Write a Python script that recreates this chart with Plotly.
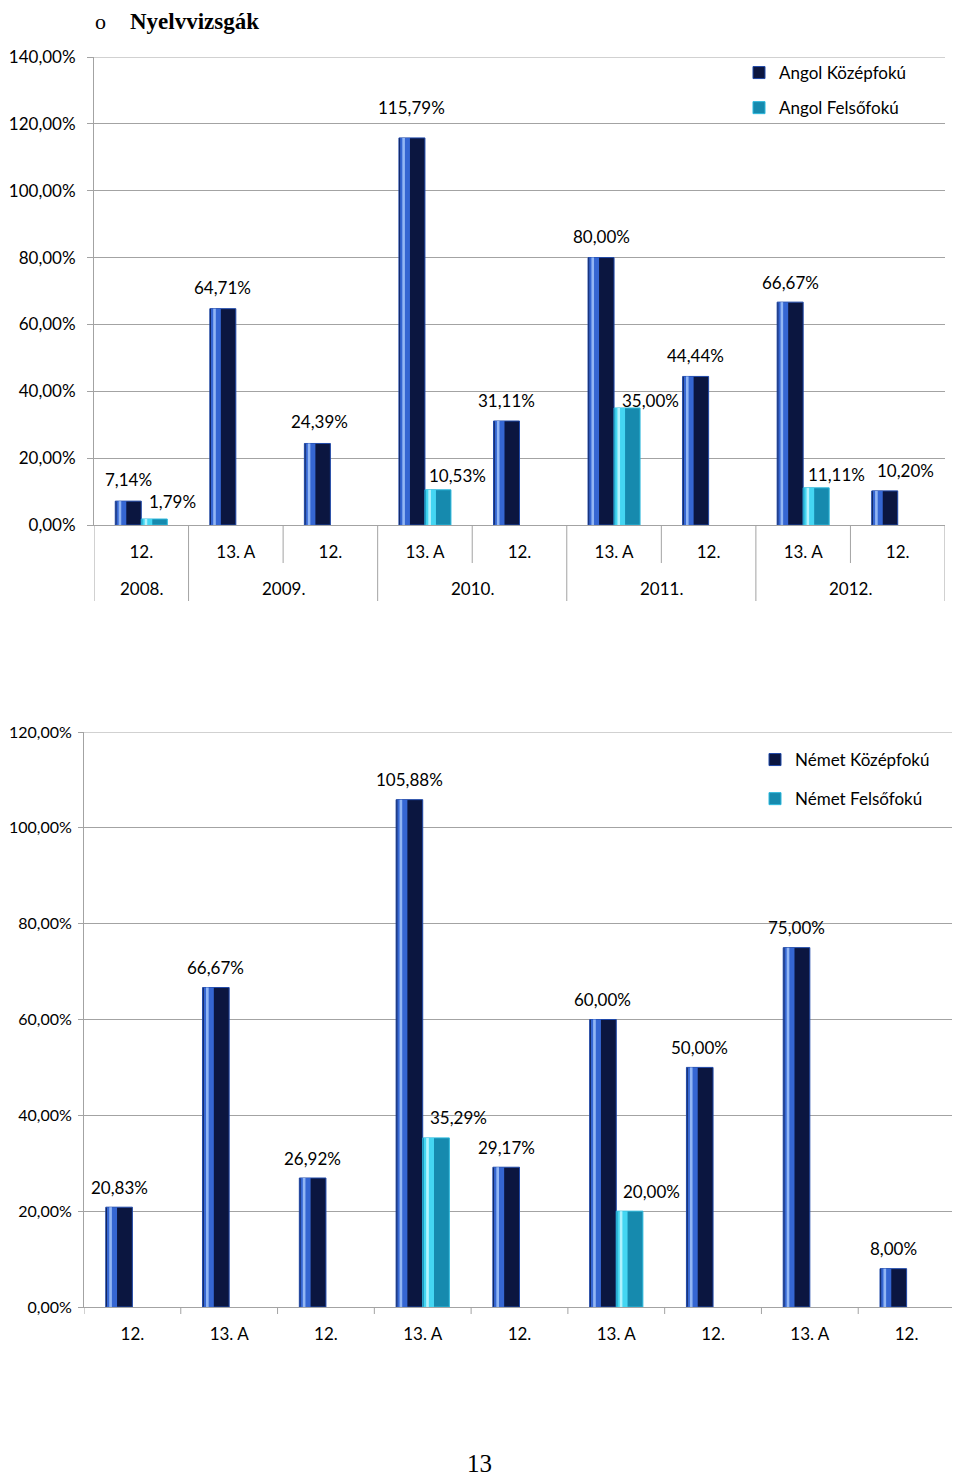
import plotly.graph_objects as go

# page is 960x1478; the html body has an 8px margin, so the figure is 8px smaller
PAGE_OFF = 8
W, H = 960 - PAGE_OFF, 1478 - PAGE_OFF

# ---------------- data: chart 1 (Angol) ----------------
years1 = ["2008.", "2009.", "2009.", "2010.", "2010.", "2011.", "2011.", "2012.", "2012."]
classes1 = ["12.", "13. A", "12.", "13. A", "12.", "13. A", "12.", "13. A", "12."]
angol_kozep = [7.14, 64.71, 24.39, 115.79, 31.11, 80.00, 44.44, 66.67, 10.20]
angol_felso = [1.79, None, None, 10.53, None, 35.00, None, 11.11, None]
y1_ticks = [0, 20, 40, 60, 80, 100, 120, 140]
legend1_names = ["Angol Középfokú", "Angol Felsőfokú"]

# ---------------- data: chart 2 (Német) ----------------
classes2 = ["12.", "13. A", "12.", "13. A", "12.", "13. A", "12.", "13. A", "12."]
nemet_kozep = [20.83, 66.67, 26.92, 105.88, 29.17, 60.00, 50.00, 75.00, 8.00]
nemet_felso = [None, None, None, 35.29, None, 20.00, None, None, None]
y2_ticks = [0, 20, 40, 60, 80, 100, 120]
legend2_names = ["Német Középfokú", "Német Felsőfokú"]

# ---------------- label placement (style, pixels) ----------------
k1_dx = [0, 0, 2, 0, 0, 0, 0, 0, 21]
k1_dy = [22, 21, 22, 30, 21, 21, 21, 20, 20]
f1_dx = [18, 0, 0, 20, 0, 23, 0, 20, 0]
f1_dy = [18, 0, 0, 14, 0, 8, 0, 13, 0]
k2_dx = [0] * 9
k2_dy = [20] * 9
f2_dx = [22] * 9
f2_dy = [20] * 9

# ---------------- styles ----------------
FONT = "Lato"
GRID = "#a3a3a3"
K_COL = dict(base="#0b1640", edge="#1f48a8", shade="#3566d2", hi="#92b6f4")
F_COL = dict(base="#168aae", edge="#2ab8dc", shade="#44d6f2", hi="#b0f2fd")
BAR_W = 0.275


def px_y(p):
    return 1 - (p - PAGE_OFF) / H


def px_x(p):
    return (p - PAGE_OFF) / W


def pct(v):
    return f"{v:.2f}".replace(".", ",") + "%"


X1_DOM = [px_x(94), px_x(945)]
Y1_DOM = [px_y(525), px_y(57)]
X2_DOM = [px_x(84), px_x(955)]
Y2_DOM = [px_y(1307), px_y(732)]

fig = go.Figure()


def add_series(vals, name, legend, xa, ya, offset, cols, group):
    idx = list(range(len(vals)))
    fig.add_trace(go.Bar(
        x=idx, y=vals, offset=offset, width=BAR_W, name=name, legend=legend,
        legendgroup=group, xaxis=xa, yaxis=ya,
        marker=dict(color=cols["base"], line=dict(color=cols["edge"], width=1)),
        hoverinfo="skip"))
    fig.add_trace(go.Bar(
        x=idx, y=vals, offset=offset + 0.012, width=BAR_W * 0.38, showlegend=False,
        legendgroup=group, xaxis=xa, yaxis=ya, marker=dict(color=cols["shade"], line=dict(width=0)),
        hoverinfo="skip"))
    fig.add_trace(go.Bar(
        x=idx, y=vals, offset=offset + BAR_W * 0.13, width=BAR_W * 0.1, showlegend=False,
        legendgroup=group, xaxis=xa, yaxis=ya, marker=dict(color=cols["hi"], line=dict(width=0)),
        hoverinfo="skip"))


add_series(angol_kozep, legend1_names[0], "legend", "x", "y", -BAR_W, K_COL, "a1")
add_series(angol_felso, legend1_names[1], "legend", "x", "y", 0.0, F_COL, "a2")
add_series(nemet_kozep, legend2_names[0], "legend2", "x2", "y2", -BAR_W, K_COL, "b1")
add_series(nemet_felso, legend2_names[1], "legend2", "x2", "y2", 0.0, F_COL, "b2")

annotations = []


def add_labels(vals, xref, yref, center, dxs, dys):
    for i, v in enumerate(vals):
        if v is None:
            continue
        annotations.append(dict(
            x=i + center, y=v, xref=xref, yref=yref, text=pct(v), showarrow=False,
            xanchor="center", yanchor="middle", xshift=dxs[i], yshift=dys[i],
            font=dict(family=FONT, size=17, color="black")))


add_labels(angol_kozep, "x", "y", -BAR_W / 2, k1_dx, k1_dy)
add_labels(angol_felso, "x", "y", BAR_W / 2, f1_dx, f1_dy)
add_labels(nemet_kozep, "x2", "y2", -BAR_W / 2, k2_dx, k2_dy)
add_labels(nemet_felso, "x2", "y2", BAR_W / 2, f2_dx, f2_dy)

# year labels (second row, chart 1)
groups = []
for i, yr in enumerate(years1):
    if groups and groups[-1][0] == yr:
        groups[-1][1].append(i)
    else:
        groups.append([yr, [i]])
for yr, ids in groups:
    annotations.append(dict(
        x=sum(ids) / len(ids), y=px_y(589), xref="x", yref="paper", text=yr,
        showarrow=False, xanchor="center", yanchor="middle",
        font=dict(family=FONT, size=17, color="black")))

# title and page number
annotations.append(dict(x=px_x(100), y=1, xref="paper", yref="paper", text="o",
                        showarrow=False, xanchor="center", yanchor="top", borderpad=0,
                        font=dict(family="Liberation Serif", size=22, color="black")))
annotations.append(dict(x=px_x(129), y=1, xref="paper", yref="paper",
                        text="<b>Nyelvvizsgák</b>", showarrow=False, xanchor="left",
                        yanchor="top", borderpad=0,
                        font=dict(family="Liberation Serif", size=23, color="black")))
annotations.append(dict(x=px_x(479), y=0, xref="paper", yref="paper", text="13",
                        showarrow=False, xanchor="center", yanchor="bottom", borderpad=0,
                        font=dict(family="Liberation Serif", size=25, color="black")))

# boundary ticks, year dividers and top gridlines
shapes = []
n1 = len(classes1)
for b in range(n1 + 1):
    xb = b - 0.5
    is_year_edge = b == 0 or b == n1 or years1[b] != years1[b - 1]
    length = 76 if is_year_edge else 38
    shapes.append(dict(type="line", xref="x", yref="paper", x0=xb, x1=xb,
                       y0=Y1_DOM[0], y1=Y1_DOM[0] - length / H,
                       line=dict(color=GRID, width=1)))
n2 = len(classes2)
for b in range(n2 + 1):
    xb = b - 0.5
    shapes.append(dict(type="line", xref="x2", yref="paper", x0=xb, x1=xb,
                       y0=Y2_DOM[0], y1=Y2_DOM[0] - 7 / H,
                       line=dict(color=GRID, width=1)))
shapes.append(dict(type="line", xref="x domain", yref="y", x0=0, x1=1,
                   y0=y1_ticks[-1], y1=y1_ticks[-1], line=dict(color=GRID, width=1), layer="below"))
shapes.append(dict(type="line", xref="x2 domain", yref="y2", x0=0, x1=1,
                   y0=y2_ticks[-1], y1=y2_ticks[-1], line=dict(color=GRID, width=1), layer="below"))

tickfont = dict(family=FONT, size=17, color="black")
tickfont2 = dict(family=FONT, size=16, color="black")

fig.update_layout(
    width=W, height=H, margin=dict(l=0, r=0, t=0, b=0, autoexpand=False),
    paper_bgcolor="white", plot_bgcolor="white",
    barmode="overlay", separators=",.",
    showlegend=True,
    xaxis=dict(domain=X1_DOM, anchor="y", range=[-0.5, n1 - 0.5], automargin=False,
               tickmode="array", tickvals=list(range(n1)), ticktext=classes1,
               ticks="", showgrid=False, zeroline=False, showline=True,
               linecolor=GRID, linewidth=1, tickfont=tickfont, ticklabelstandoff=12),
    yaxis=dict(domain=Y1_DOM, anchor="x", range=[0, 140], tickmode="array", automargin=False,
               tickvals=y1_ticks, ticktext=[pct(v) for v in y1_ticks],
               showgrid=True, gridcolor=GRID, gridwidth=1, zeroline=False,
               showline=True, linecolor=GRID, linewidth=1, ticks="outside",
               ticklen=6, tickcolor=GRID, tickfont=tickfont, ticklabelstandoff=8),
    xaxis2=dict(domain=X2_DOM, anchor="y2", range=[-0.5, n2 - 0.5], automargin=False,
                tickmode="array", tickvals=list(range(n2)), ticktext=classes2,
                ticks="", showgrid=False, zeroline=False, showline=True,
                linecolor=GRID, linewidth=1, tickfont=tickfont, ticklabelstandoff=12),
    yaxis2=dict(domain=Y2_DOM, anchor="x2", range=[0, 120], tickmode="array", automargin=False,
                tickvals=y2_ticks, ticktext=[pct(v) for v in y2_ticks],
                showgrid=True, gridcolor=GRID, gridwidth=1, zeroline=False,
                showline=True, linecolor=GRID, linewidth=1, ticks="outside",
                ticklen=5, tickcolor=GRID, tickfont=tickfont2, ticklabelstandoff=3),
    legend=dict(x=px_x(739), y=px_y(55), xanchor="left", yanchor="top",
                bgcolor="rgba(0,0,0,0)", font=tickfont, traceorder="grouped",
                tracegroupgap=10),
    legend2=dict(x=px_x(755), y=px_y(742), xanchor="left", yanchor="top",
                 bgcolor="rgba(0,0,0,0)", font=tickfont, traceorder="grouped",
                 tracegroupgap=14),
    annotations=annotations, shapes=shapes,
)

fig.write_html("out.html")
